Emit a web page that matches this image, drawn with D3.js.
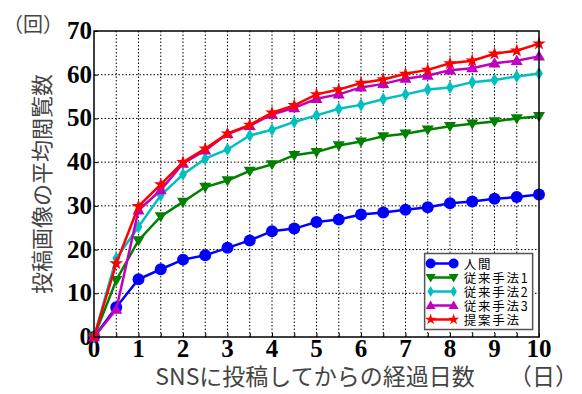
<!DOCTYPE html>
<html>
<head>
<meta charset="utf-8">
<script src="https://cdn.jsdelivr.net/npm/d3@7"></script>
<style>
  body { margin: 0; background: #fff; }
  .num { font-family: "Liberation Serif"; font-weight: 700; font-size: 25px; }
</style>
</head>
<body>
<div id="chart"></div>
<script>
const days = [0, 0.5, 1, 1.5, 2, 2.5, 3, 3.5, 4, 4.5, 5, 5.5, 6, 6.5, 7, 7.5, 8, 8.5, 9, 9.5, 10];
const human   = [0, 6.8, 13.2, 15.5, 17.7, 18.7, 20.4, 22.1, 24.2, 24.8, 26.3, 26.9, 28.0, 28.5, 29.1, 29.7, 30.6, 31.0, 31.6, 32.0, 32.6];
const method1 = [0, 13.0, 22.1, 27.6, 30.9, 34.3, 35.8, 38.0, 39.5, 41.6, 42.3, 43.8, 44.7, 45.9, 46.5, 47.4, 48.2, 48.8, 49.3, 50.0, 50.5];
const method2 = [0, 18.0, 25.2, 32.4, 37.2, 40.8, 42.9, 46.1, 47.4, 49.2, 50.7, 52.2, 53.1, 54.4, 55.5, 56.6, 57.1, 58.3, 58.8, 59.6, 60.3];
const method3 = [0, 6.3, 29.0, 33.6, 39.7, 42.7, 46.5, 48.3, 50.9, 52.4, 54.5, 55.5, 57.1, 57.9, 59.1, 59.8, 61.0, 61.5, 62.6, 63.2, 64.2];
const proposed = [0, 16.8, 29.9, 34.9, 40.0, 43.1, 46.5, 48.5, 51.3, 53.0, 55.5, 56.6, 58.1, 58.9, 60.2, 61.1, 62.6, 63.2, 64.8, 65.5, 67.1];

const seriesNames = ["人間", "従来手法1", "従来手法2", "従来手法3", "提案手法"];
const seriesValues = [human, method1, method2, method3, proposed];
const colors = ["#0000ff", "#008000", "#00bfbf", "#bf00bf", "#ff0000"];
const markers = ["circle", "triDown", "diamond", "triUp", "star"];

const xTicks = [0, 1, 2, 3, 4, 5, 6, 7, 8, 9, 10];
const yTicks = [0, 10, 20, 30, 40, 50, 60, 70];

const W = 582, H = 394;
const margin = {top: 31, right: 43, bottom: 57, left: 94};
const width = W - margin.left - margin.right;
const height = H - margin.top - margin.bottom;

const jpFont = '"Noto Sans CJK JP", "Noto Sans", sans-serif';

const svg = d3.select("#chart").append("svg")
  .attr("width", W)
  .attr("height", H);

const g = svg.append("g")
  .attr("transform", "translate(" + margin.left + "," + margin.top + ")");

const x = d3.scaleLinear().domain([0, 10]).range([0, width]);
const y = d3.scaleLinear().domain([0, 70]).range([height, 0]);

// grid: vertical every 0.5, horizontal every 10
g.append("g").selectAll("line")
  .data(d3.range(0.5, 10, 0.5))
  .enter().append("line")
  .attr("x1", d => x(d)).attr("x2", d => x(d))
  .attr("y1", 0).attr("y2", height)
  .attr("stroke", "#000").attr("stroke-width", 1)
  .attr("stroke-dasharray", "1.5,2");

g.append("g").selectAll("line")
  .data(yTicks.slice(1, -1))
  .enter().append("line")
  .attr("x1", 0).attr("x2", width)
  .attr("y1", d => y(d)).attr("y2", d => y(d))
  .attr("stroke", "#000").attr("stroke-width", 1)
  .attr("stroke-dasharray", "1.5,2");

// inward ticks
const xAxis = d3.axisBottom(x).tickValues(d3.range(0, 10.01, 0.5)).tickSize(-4).tickFormat("");
g.append("g").attr("transform", "translate(0," + height + ")").call(xAxis)
  .call(s => s.select(".domain").remove());
const yAxis = d3.axisLeft(y).tickValues(yTicks).tickSize(-4).tickFormat("");
g.append("g").call(yAxis).call(s => s.select(".domain").remove());

// tick labels
g.append("g").selectAll("text")
  .data(xTicks)
  .enter().append("text")
  .attr("class", "num")
  .attr("x", d => x(d))
  .attr("y", height + 20)
  .attr("text-anchor", "middle")
  .text(d => d);

g.append("g").selectAll("text")
  .data(yTicks)
  .enter().append("text")
  .attr("class", "num")
  .attr("x", -2)
  .attr("y", d => y(d) + 8)
  .attr("text-anchor", "end")
  .text(d => d);

// lines and markers
const line = d3.line()
  .x((d, i) => x(days[i]))
  .y(d => y(d));

function markerPath(type, r) {
  if (type === "circle") return d3.symbol(d3.symbolCircle, Math.PI * r * r)();
  if (type === "diamond") return "M0," + (-r * 1.1) + "L" + (r * 0.65) + ",0L0," + (r * 1.1) + "L" + (-r * 0.65) + ",0Z";
  if (type === "triUp") return "M0," + (-r) + "L" + (r * 1.0) + "," + (r * 0.7) + "L" + (-r * 1.0) + "," + (r * 0.7) + "Z";
  if (type === "triDown") return "M0," + r + "L" + (r * 1.0) + "," + (-r * 0.7) + "L" + (-r * 1.0) + "," + (-r * 0.7) + "Z";
  if (type === "star") return d3.symbol(d3.symbolStar, r * r * 1.6)();
}

seriesValues.forEach((vals, k) => {
  g.append("path")
    .datum(vals)
    .attr("fill", "none")
    .attr("stroke", colors[k])
    .attr("stroke-width", 2.5)
    .attr("d", line);

  g.append("g").selectAll("path")
    .data(vals)
    .enter().append("path")
    .attr("transform", (d, i) => "translate(" + x(days[i]) + "," + y(d) + ")")
    .attr("d", markerPath(markers[k], 6))
    .attr("fill", colors[k]);
});

// axes frame
g.append("rect")
  .attr("width", width).attr("height", height)
  .attr("fill", "none").attr("stroke", "#000").attr("stroke-width", 1.5);

// legend
const legend = g.append("g").attr("transform", "translate(" + (x(7.43)) + "," + (y(19.1)) + ")");
legend.append("rect")
  .attr("width", 108).attr("height", 76)
  .attr("fill", "#fff").attr("stroke", "#555").attr("stroke-width", 1.5);

seriesNames.forEach((name, k) => {
  const row = legend.append("g").attr("transform", "translate(0," + (10 + k * 14) + ")");
  row.append("line")
    .attr("x1", 6).attr("x2", 29)
    .attr("stroke", colors[k]).attr("stroke-width", 2.5);
  [6, 29].forEach(px => {
    row.append("path")
      .attr("transform", "translate(" + px + ",0)")
      .attr("d", markerPath(markers[k], 5))
      .attr("fill", colors[k]);
  });
  row.append("text")
    .attr("font-family", jpFont).attr("font-size", 12.5)
    .attr("letter-spacing", "1.8px")
    .attr("fill", "#000")
    .attr("x", 39).attr("y", 5)
    .text(name);
});

// axis titles
svg.append("text")
  .attr("font-family", jpFont).attr("font-size", 20)
  .attr("fill", "#444")
  .attr("x", 3).attr("y", 32)
  .text("（回）");

svg.append("text")
  .attr("font-family", jpFont).attr("font-size", 22)
  .attr("fill", "#444")
  .attr("transform", "translate(50,184) rotate(-90)")
  .attr("text-anchor", "middle")
  .text("投稿画像の平均閲覧数");

svg.append("text")
  .attr("font-family", jpFont).attr("font-size", 23)
  .attr("fill", "#444")
  .attr("x", 315).attr("y", 385)
  .attr("text-anchor", "middle")
  .text("SNSに投稿してからの経過日数");

svg.append("text")
  .attr("font-family", jpFont).attr("font-size", 23)
  .attr("fill", "#444")
  .attr("x", 509).attr("y", 385)
  .text("（日）");
</script>
</body>
</html>
